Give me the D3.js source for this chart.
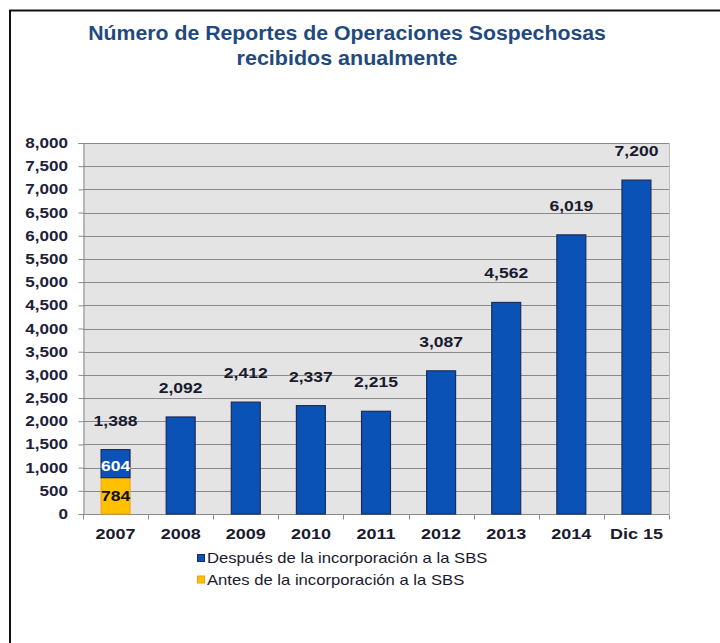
<!DOCTYPE html>
<html><head><meta charset="utf-8">
<script src="https://cdn.jsdelivr.net/npm/d3@7"></script>
<style>body{margin:0;background:#fff}svg{display:block}text{font-family:"Liberation Sans",Arial,sans-serif}</style>
</head><body>
<script>
const categories = ["2007","2008","2009","2010","2011","2012","2013","2014","Dic 15"];
const antes = [784,0,0,0,0,0,0,0,0];
const despues = [604,2092,2412,2337,2215,3087,4562,6019,7200];
const totals = [1388,2092,2412,2337,2215,3087,4562,6019,7200];
const yTicks = [0,500,1000,1500,2000,2500,3000,3500,4000,4500,5000,5500,6000,6500,7000,7500,8000];
const titleLines = ["Número de Reportes de Operaciones Sospechosas","recibidos anualmente"];
const legendLabels = ["Después de la incorporación a la SBS","Antes de la incorporación a la SBS"];

const W=720,H=643, SX=1.2;
const svg=d3.select("body").append("svg").attr("width",W).attr("height",H);
svg.append("rect").attr("width",W).attr("height",H).attr("fill","#fff");
// frame
svg.append("path").attr("d","M10,643V10.5H720").attr("fill","none").attr("stroke","#111").attr("stroke-width",2);

function stext(g,x,y,str,anchor,size,weight,fill,sx){
  return g.append("text").attr("transform",`translate(${x},${y}) scale(${sx||SX},1)`)
   .attr("text-anchor",anchor).attr("font-size",size).attr("font-weight",weight).attr("fill",fill).text(str);
}

const titleWidths=[518,221];
titleLines.forEach((t,i)=>{
  const el=stext(svg,347,40+i*25,t,"middle",20,"bold","#1f4a80",1);
  const len=el.node().getComputedTextLength();
  el.attr("transform",`translate(347,${40+i*25}) scale(${titleWidths[i]/len},1)`);
});

const x=d3.scaleBand().domain(categories).range([83,669]).paddingInner(0.54).paddingOuter(0.27);
const y=d3.scaleLinear().domain([0,8000]).range([514,143]);

svg.append("rect").attr("x",83).attr("y",143).attr("width",586).attr("height",371).attr("fill","#e4e4e4");
// gridlines
svg.append("g").selectAll("line").data(yTicks.filter(d=>d>0)).join("line")
 .attr("x1",83).attr("x2",669).attr("y1",d=>Math.round(y(d))+0.5).attr("y2",d=>Math.round(y(d))+0.5)
 .attr("stroke","#8a8a8a").attr("stroke-width",1);
svg.append("line").attr("x1",669.5).attr("x2",669.5).attr("y1",143).attr("y2",514).attr("stroke","#bdbdbd");

// y axis
const ya=svg.append("g").attr("transform","translate(83.5,0)");
ya.call(d3.axisLeft(y).tickValues(yTicks).tickSize(5).tickFormat(()=>""));
ya.select(".domain").attr("stroke","#8a8a8a");
ya.selectAll(".tick line").attr("stroke","#8a8a8a");
yTicks.forEach(v=>stext(svg,68,y(v)+5,d3.format(",")(v),"end",14,"bold","#20203a",1.22));

// x axis
const xa=svg.append("g").attr("transform","translate(0,514.5)");
xa.append("line").attr("x1",83).attr("x2",669).attr("stroke","#8a8a8a");
const bounds=categories.map(c=>x(c)-x.step()*x.paddingInner()/2).concat([669]);
xa.selectAll("line.t").data(bounds).join("line").attr("class","t")
 .attr("x1",d=>Math.round(d)+0.5).attr("x2",d=>Math.round(d)+0.5).attr("y1",0).attr("y2",5).attr("stroke","#8a8a8a");
categories.forEach(c=>stext(svg,x(c)+x.bandwidth()/2,539,c,"middle",15,"bold","#1a1a2e",1.2));

// bars
const bw=x.bandwidth();
svg.append("g").selectAll("rect").data(categories).join("rect")
 .attr("x",c=>x(c)+0.5).attr("width",bw-1)
 .attr("y",(c,i)=>y(antes[i]))
 .attr("height",(c,i)=>y(0)-y(antes[i]))
 .attr("fill","#ffc000").attr("stroke","#f39a1a").attr("stroke-width",1)
 .style("display",(c,i)=>antes[i]>0?null:"none");
svg.append("g").selectAll("rect").data(categories).join("rect")
 .attr("x",c=>x(c)+0.5).attr("width",bw-1)
 .attr("y",(c,i)=>y(antes[i]+despues[i]))
 .attr("height",(c,i)=>y(antes[i])-y(antes[i]+despues[i]))
 .attr("fill","#0a52b5").attr("stroke","#1a2d5c").attr("stroke-width",1.2);

// inner labels for 2007
categories.forEach((c,i)=>{
  if(antes[i]>0){
    stext(svg,x(c)+bw/2,(y(0)+y(antes[i]))/2+5.5,String(antes[i]),"middle",15,"bold","#111",1.17);
    stext(svg,x(c)+bw/2,(y(antes[i])+y(antes[i]+despues[i]))/2+7.5,String(despues[i]),"middle",15,"bold","#fff",1.17);
  }
});
// total labels
categories.forEach((c,i)=>stext(svg,x(c)+bw/2,y(totals[i])-24,d3.format(",")(totals[i]),"middle",15,"bold","#1a1a2e",1.17));

// legend
const lg=svg.append("g");
const lcol=[["#0a52b5","#1a2d5c"],["#ffc000","#f39a1a"]];
legendLabels.forEach((t,i)=>{
  lg.append("rect").attr("x",197.5).attr("y",554.5+i*21.5).attr("width",7).attr("height",7)
   .attr("fill",lcol[i][0]).attr("stroke",lcol[i][1]);
  stext(lg,207,563+i*21.5,t,"start",14,"normal","#1a1a2e",1.19);
});
</script>
</body></html>
